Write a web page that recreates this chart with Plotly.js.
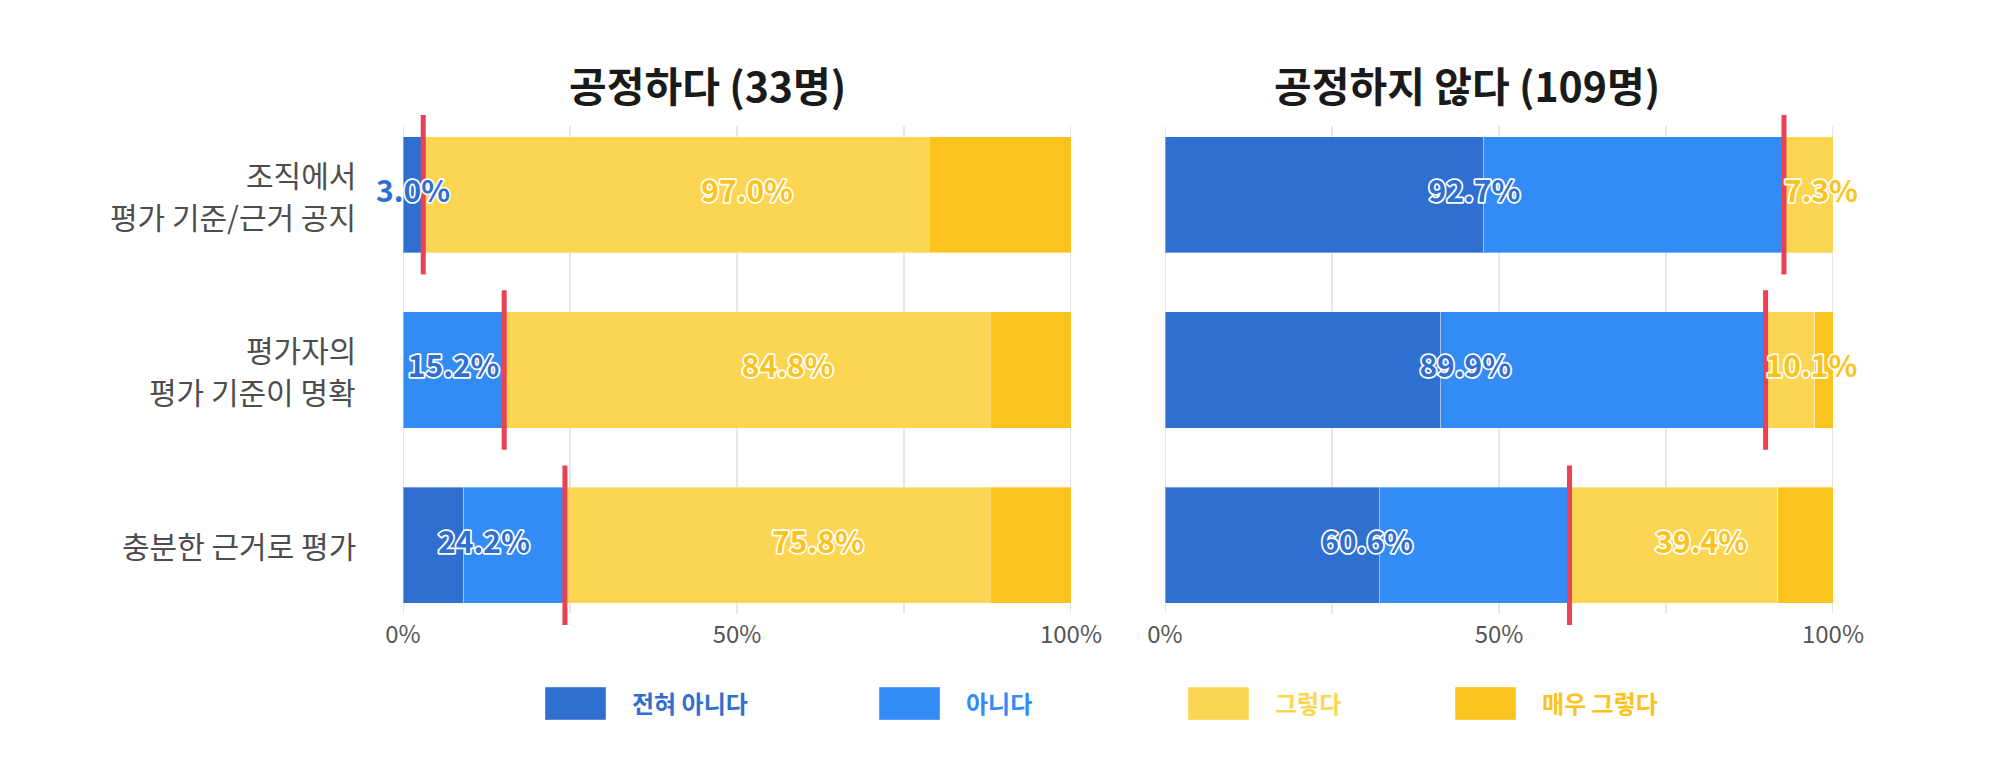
<!DOCTYPE html>
<html><head><meta charset="utf-8">
<script src="https://cdn.plot.ly/plotly-3.0.1.min.js"></script>
<style>
html,body{margin:0;padding:0;background:#fff;}
#chart{width:2000px;height:776px;}
.textpoint text{paint-order:stroke fill;stroke:#ffffff;stroke-width:3.5px;stroke-linejoin:round;}
</style></head><body><div id="chart"></div>
<script>
// ---- data ----
const categories = ['조직에서<br>평가 기준/근거 공지', '평가자의<br>평가 기준이 명확', '충분한 근거로 평가'];
const seriesNames = ['전혀 아니다', '아니다', '그렇다', '매우 그렇다'];
const groupNames = ['공정하다', '공정하지 않다'];
const groupSizes = [33, 109];
// respondent counts per category
const fairStronglyDisagree = [1, 0, 3];
const fairDisagree = [0, 5, 5];
const fairAgree = [25, 24, 21];
const fairStronglyAgree = [7, 4, 4];
const unfairStronglyDisagree = [52, 45, 35];
const unfairDisagree = [49, 53, 31];
const unfairAgree = [8, 8, 34];
const unfairStronglyAgree = [0, 3, 9];
const xTickVals = [0, 50, 100];
const xTickText = ['0%', '50%', '100%'];
const gridVals = [0, 25, 50, 75, 100];

// ---- styles ----
const colors = ['#2F6FD0', '#338BF5', '#FCD652', '#FBC31D'];
const redColor = '#EA4254';
const FONT = '"Noto Sans CJK KR", "Noto Sans", sans-serif';

const groups = [
  [fairStronglyDisagree, fairDisagree, fairAgree, fairStronglyAgree],
  [unfairStronglyDisagree, unfairDisagree, unfairAgree, unfairStronglyAgree]
];
const catPos = categories.map((c, i) => i);

const traces = [];
const shapes = [];
const annotations = [];

groups.forEach((series, g) => {
  const n = groupSizes[g];
  const xa = g ? 'x2' : 'x';
  const ya = g ? 'y2' : 'y';
  const pct = series.map(arr => arr.map(v => v / n * 100));
  pct.forEach((vals, s) => {
    traces.push({
      type: 'bar', orientation: 'h', y: catPos, x: vals,
      name: seriesNames[s], xaxis: xa, yaxis: ya,
      marker: {color: colors[s], line: {color: 'rgba(255,255,255,0.35)', width: 1}},
      hoverinfo: 'skip', showlegend: false
    });
  });
  const dis = categories.map((c, i) => pct[0][i] + pct[1][i]);
  const agr = categories.map((c, i) => pct[2][i] + pct[3][i]);
  // red divider lines at the disagree/agree boundary
  const lx = [], ly = [];
  dis.forEach((d, i) => { lx.push(d, d, null); ly.push(i - 0.455, i + 0.455, null); });
  traces.push({
    type: 'scatter', mode: 'lines', x: lx, y: ly, xaxis: xa, yaxis: ya,
    line: {color: redColor, width: 5}, hoverinfo: 'skip', showlegend: false, connectgaps: false
  });
  traces.push({
    type: 'scatter', mode: 'text', xaxis: xa, yaxis: ya, y: catPos,
    x: dis.map(d => d / 2), text: dis.map(d => d.toFixed(1) + '%'),
    textposition: 'middle center', cliponaxis: false, hoverinfo: 'skip', showlegend: false,
    textfont: {family: FONT, size: 30, weight: 700, color: colors[0]}
  });
  // narrow agree segments: label starts just right of the divider
  const narrow = agr.map(a => a < 12);
  traces.push({
    type: 'scatter', mode: 'text', xaxis: xa, yaxis: ya, y: catPos,
    x: dis.map((d, i) => narrow[i] ? d : d + agr[i] / 2), text: agr.map(a => a.toFixed(1) + '%'),
    textposition: narrow.map(nw => nw ? 'middle right' : 'middle center'),
    cliponaxis: false, hoverinfo: 'skip', showlegend: false,
    textfont: {family: FONT, size: 30, weight: 700, color: colors[3]}
  });
  gridVals.forEach(v => shapes.push({
    type: 'line', xref: xa, yref: ya, x0: v, x1: v, y0: -0.39, y1: 2.39,
    line: {color: '#E6E6E6', width: 2}, layer: 'below'
  }));
  annotations.push({
    xref: 'paper', yref: 'paper', x: g ? 1467 / 2000 : 707 / 2000, y: 1 - 84 / 776,
    xanchor: 'center', yanchor: 'middle', showarrow: false,
    text: groupNames[g] + ' (' + n + '명)',
    font: {family: FONT, size: 41, weight: 700, color: '#1A1A1A'}
  });
});

// category labels (one text per line, 42px line pitch)
const LINE_PITCH = 42;
categories.forEach((cat, i) => {
  const lines = cat.split('<br>');
  lines.forEach((ln, k) => {
    annotations.push({
      xref: 'paper', yref: 'y', x: 358 / 2000, y: i,
      xanchor: 'right', yanchor: 'middle', showarrow: false, text: ln,
      yshift: ((lines.length - 1) / 2 - k) * LINE_PITCH,
      font: {family: FONT, size: 30, color: '#4D4D4D'}
    });
  });
});

// custom legend
const legendX = [545, 879, 1188, 1455];
seriesNames.forEach((name, s) => {
  const x0 = legendX[s];
  shapes.push({
    type: 'rect', xref: 'paper', yref: 'paper',
    x0: x0 / 2000, x1: (x0 + 61) / 2000, y0: 1 - 720 / 776, y1: 1 - 687 / 776,
    fillcolor: colors[s], line: {color: 'rgba(255,255,255,0.4)', width: 1}
  });
  annotations.push({
    xref: 'paper', yref: 'paper', x: (x0 + 61 + 24) / 2000, y: 1 - 702 / 776,
    xanchor: 'left', yanchor: 'middle', showarrow: false, text: name,
    font: {family: FONT, size: 24, weight: 700, color: colors[s]}
  });
});

const yDomain = [0.1934, 0.853];
const yBase = {
  range: [2.46, -0.46], domain: yDomain, showticklabels: false,
  showgrid: false, zeroline: false, showline: false, ticks: '', fixedrange: true
};
const xBase = {
  range: [0, 100], tickvals: xTickVals, ticktext: xTickText,
  showgrid: false, zeroline: false, showline: false, ticks: '', fixedrange: true,
  anchor: 'free', position: yDomain[0] + 8 / 776,
  tickfont: {family: FONT, size: 24, color: '#555555'}
};

const layout = {
  width: 2000, height: 776,
  margin: {l: 0, r: 0, t: 0, b: 0},
  paper_bgcolor: '#FFFFFF', plot_bgcolor: 'rgba(0,0,0,0)',
  font: {family: FONT},
  barmode: 'stack', bargap: 0.338, showlegend: false,
  xaxis: Object.assign({}, xBase, {domain: [0.2015, 0.5355]}),
  xaxis2: Object.assign({}, xBase, {domain: [0.5825, 0.9165]}),
  yaxis: Object.assign({}, yBase, {anchor: 'x'}),
  yaxis2: Object.assign({}, yBase, {anchor: 'x2'}),
  shapes: shapes,
  annotations: annotations
};

Plotly.newPlot('chart', traces, layout, {staticPlot: true, displayModeBar: false});
</script></body></html>
